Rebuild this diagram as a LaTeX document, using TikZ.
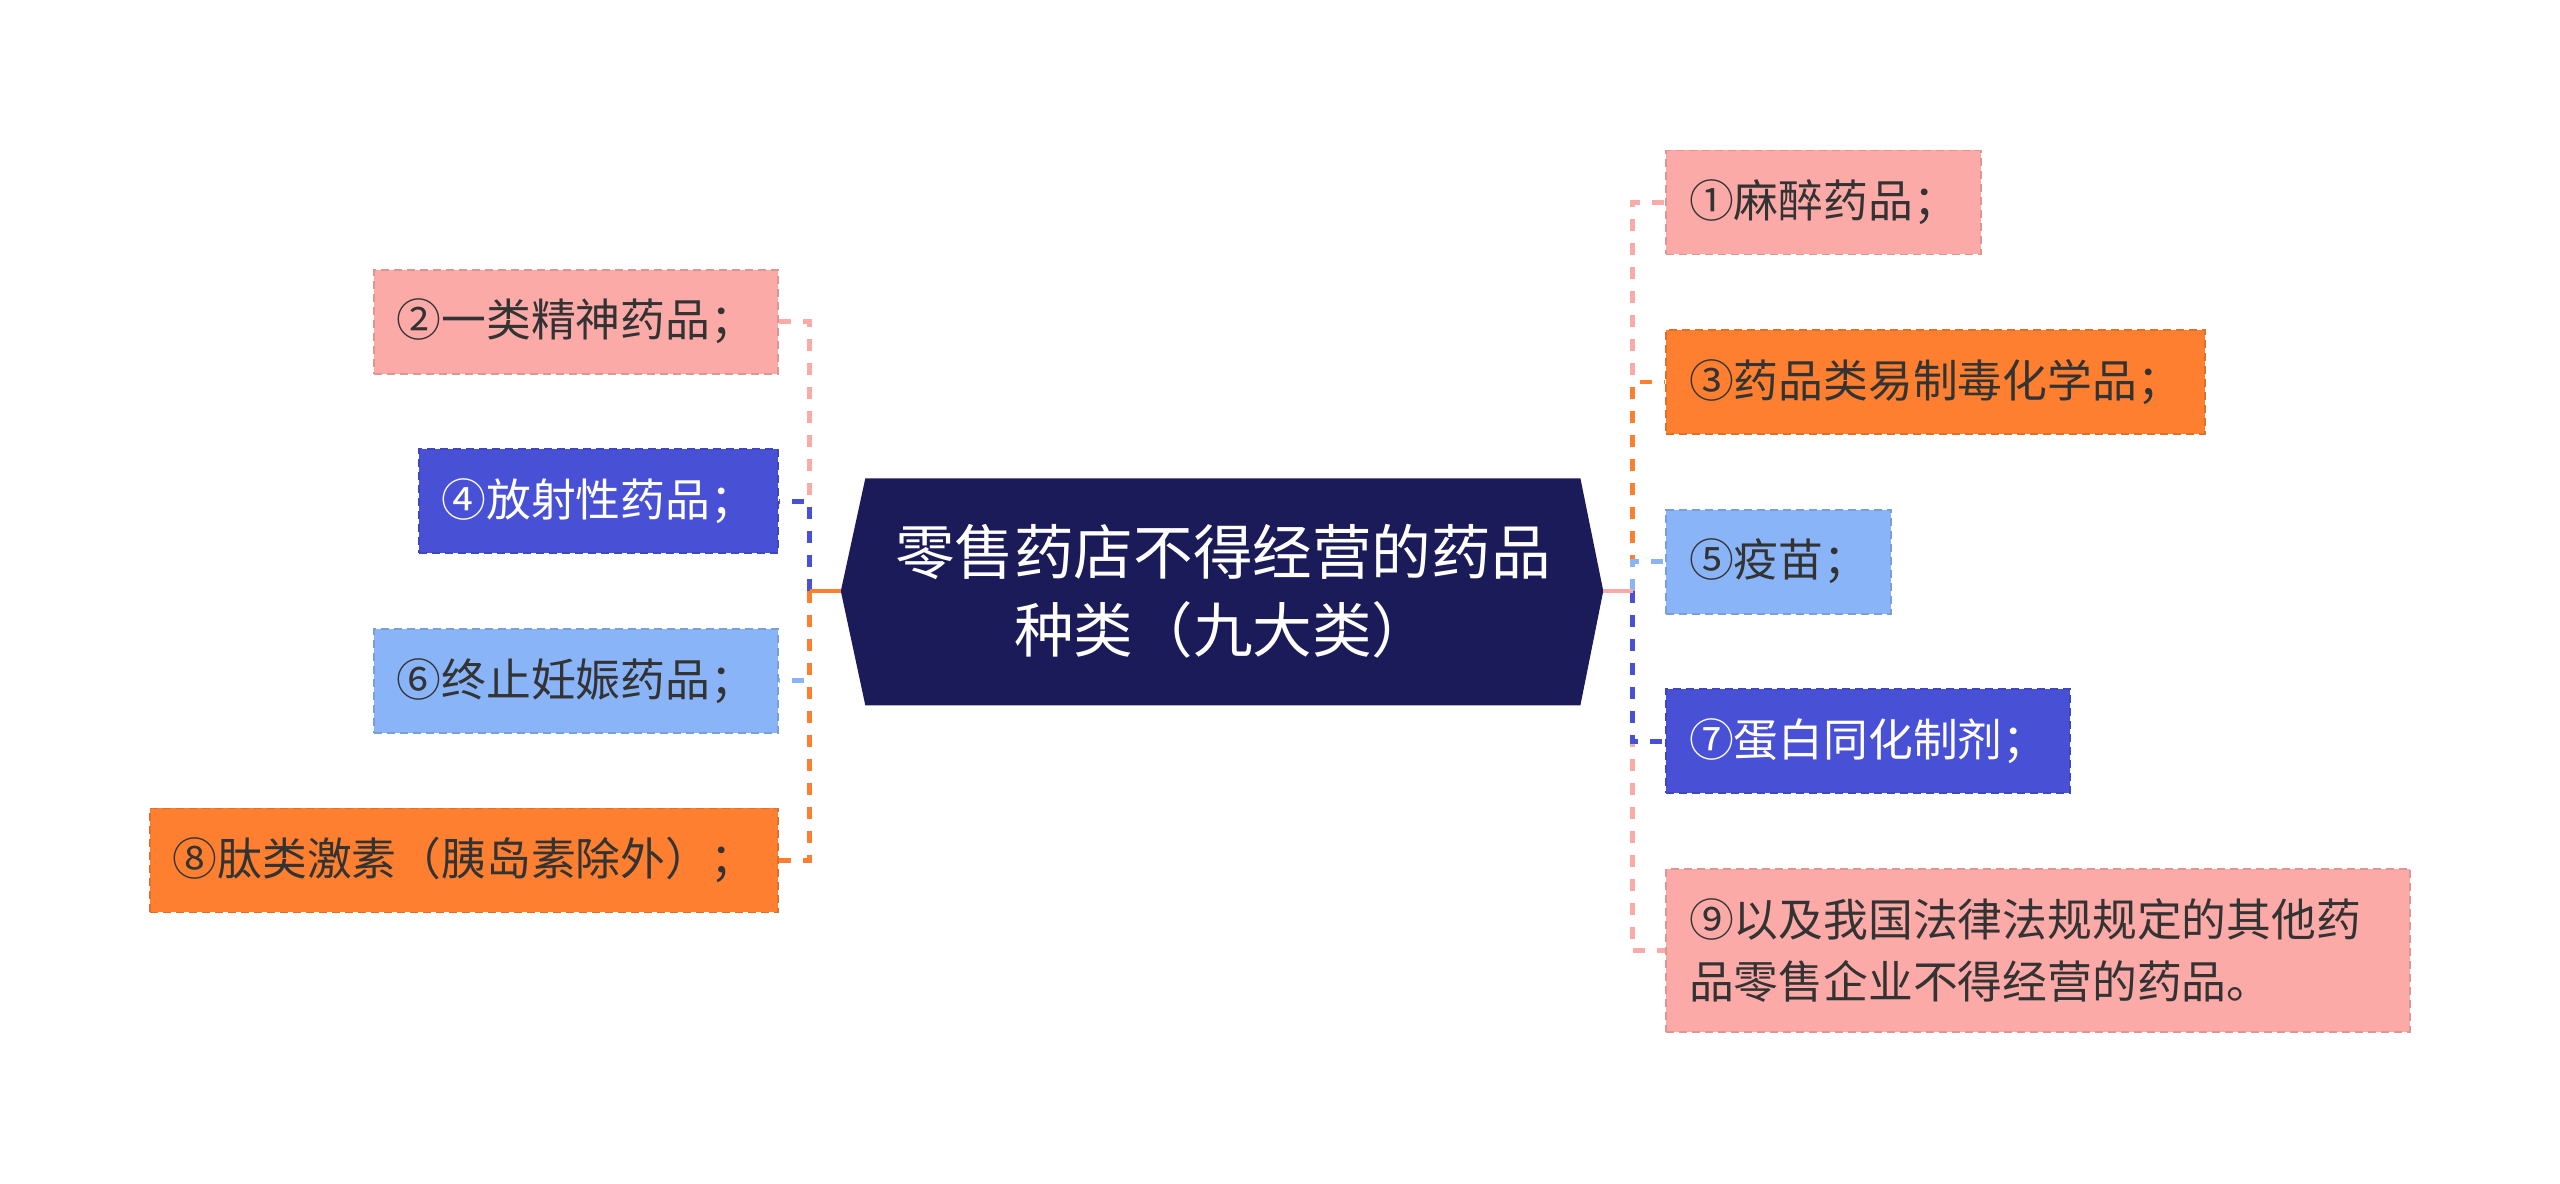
\documentclass[tikz,border=0pt]{standalone}
\usepackage{fontspec}
\setmainfont{Noto Sans CJK SC}
\definecolor{pinkc}{HTML}{FCAAA8}
\definecolor{orangec}{HTML}{FD7F2F}
\definecolor{lbluec}{HTML}{8AB4F8}
\definecolor{bluec}{HTML}{4851D6}
\definecolor{navyc}{HTML}{1C1B5A}
\definecolor{txtc}{HTML}{333333}
\begin{document}
\begin{tikzpicture}[x=0.8163pt,y=-0.8163pt,
  leaf/.style={rectangle, draw=#1!88!black, fill=#1, dash pattern=on 4pt off 2.5pt, line width=0.9pt,
    minimum height=52pt, inner xsep=11.4pt, inner ysep=0pt, text=txtc,
    font=\fontsize{22.4pt}{31pt}\selectfont},
  conn/.style={draw=#1, line width=2.4pt, dash pattern=on 6pt off 6pt},
  stub/.style={draw=#1, line width=2.4pt},
  rootfont/.style={font=\fontsize{29.8pt}{39pt}\selectfont, text=white, align=center}]
\useasboundingbox (0,0) rectangle (1568,724.6);
% central node
\fill[navyc] (515,362) -- (530,293) -- (968,293) -- (982,362) -- (968,432) -- (530,432) -- cycle;
\coordinate (rootL) at (515,362);
\coordinate (rootR) at (982,362);
\coordinate (jL) at (496,362);
\coordinate (jR) at (1000,362);
\node[rootfont] (root) at (749,362) {零售药店不得经营的药品\\种类（九大类）};
% right leaves
\node[leaf=pinkc, anchor=west] (n1) at (1020,124) {①麻醉药品；};
\node[leaf=orangec, anchor=west] (n3) at (1020,234) {③药品类易制毒化学品；};
\node[leaf=lbluec, anchor=west] (n5) at (1020,344) {⑤疫苗；};
\node[leaf=bluec, anchor=west, text=white] (n7) at (1020,454) {⑦蛋白同化制剂；};
\node[leaf=pinkc, anchor=west, minimum height=81.6pt, text width=349pt, align=left] (n9) at (1020,582)
  {⑨以及我国法律法规规定的其他药\\品零售企业不得经营的药品。};
% left leaves
\node[leaf=pinkc, anchor=east] (n2) at (477,197) {②一类精神药品；};
\node[leaf=bluec, anchor=east, text=white] (n4) at (477,307) {④放射性药品；};
\node[leaf=lbluec, anchor=east] (n6) at (477,417) {⑥终止妊娠药品；};
\node[leaf=orangec, anchor=east] (n8) at (477,527) {⑧肽类激素（胰岛素除外）；};
% connectors right
\draw[conn=pinkc] (jR) |- (n1.west);
\draw[conn=orangec] (jR) |- (n3.west);
\draw[conn=pinkc] (jR) |- (n9.west);
\draw[conn=bluec] (jR) |- (n7.west);
\draw[conn=lbluec] (jR) |- (n5.west);
\draw[stub=pinkc] (rootR) -- (jR);
% connectors left
\draw[conn=pinkc] (jL) |- (n2.east);
\draw[conn=bluec] (jL) |- (n4.east);
\draw[conn=lbluec] (jL) |- (n6.east);
\draw[conn=orangec] (jL) |- (n8.east);
\draw[stub=orangec] (rootL) -- (jL);
\end{tikzpicture}
\end{document}
